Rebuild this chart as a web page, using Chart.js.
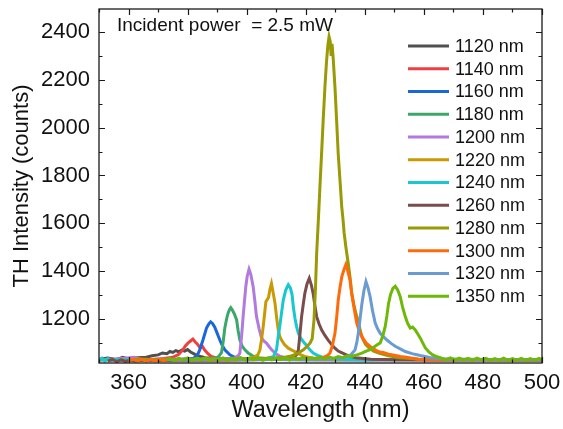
<!DOCTYPE html>
<html>
<head>
<meta charset="utf-8">
<title>TH intensity</title>
<script src="https://cdn.jsdelivr.net/npm/chart.js@4"></script>
<style>
  html, body { margin: 0; padding: 0; background: #fff; }
  #wrap { width: 563px; height: 429px; position: relative; }
</style>
</head>
<body>
<div id="wrap"><canvas id="th-chart"></canvas></div>
<script>
// pump wavelengths (legend) and their colours
const pumpLabels = ['1120 nm', '1140 nm', '1160 nm', '1180 nm', '1200 nm', '1220 nm',
                    '1240 nm', '1260 nm', '1280 nm', '1300 nm', '1320 nm', '1350 nm'];
const pumpColors = ['#505050', '#EE4040', '#1B66DA', '#3CA76A', '#B07ADF', '#C99A05',
                    '#19C8CF', '#7A4C4C', '#999A05', '#FF6A0A', '#6A9BD2', '#6EB80A'];

// axis ranges and tick values
const xMin = 350, xMax = 500;
const yMin = 1016, yMax = 2496;
const xMajorTicks = [360, 380, 400, 420, 440, 460, 480, 500];
const xMinorTicks = [350, 370, 390, 410, 430, 450, 470, 490];
const yMajorTicks = [1200, 1400, 1600, 1800, 2000, 2200, 2400];
const yMinorTicks = [1100, 1300, 1500, 1700, 1900, 2100, 2300];

// spectra: [wavelength (nm), counts]
const s1120 = [[350,1032],[353,1037],[356,1030],[358,1040],[360,1033],[363,1038],[366,1040],[368,1046],[370,1050],[371.5,1058],[373,1055],[374,1064],[375,1060],[376,1068],[377,1063],[378,1070],[379,1066],[380,1072],[381,1062],[382.5,1052],[384,1044],[386,1038],[390,1034],[400,1032],[420,1030],[450,1031],[480,1030],[500,1031]];
const s1140 = [[350,1030],[360,1033],[368,1031],[372,1035],[375,1040],[377,1052],[378.4,1071],[379.3,1088],[380.2,1100],[381,1108],[381.8,1116],[382.6,1104],[383.4,1094],[384.2,1080],[385,1086],[385.8,1070],[386.8,1056],[388,1044],[390,1036],[395,1032],[410,1031],[440,1030],[470,1031],[500,1030]];
const s1160 = [[350,1031],[365,1030],[378,1032],[382,1036],[383.3,1048],[384.1,1071],[385.2,1112],[386.4,1162],[387.2,1180],[387.8,1188],[388.5,1180],[389.2,1166],[389.8,1147],[390.9,1112],[391.8,1088],[392.6,1071],[394.3,1050],[396,1040],[399,1033],[410,1031],[440,1030],[470,1031],[500,1030]];
const s1180 = [[350,1029],[360,1031],[370,1030],[380,1032],[386,1033],[389.5,1037],[390.5,1043],[391.5,1060],[392.1,1110],[392.6,1162],[393.2,1200],[393.7,1224],[394.2,1240],[394.6,1247],[395.1,1238],[395.8,1222],[396.6,1196],[397.1,1152],[397.7,1112],[398.5,1086],[399.4,1071],[400.5,1058],[402,1046],[404,1038],[408,1033],[420,1031],[440,1030],[470,1031],[500,1030]];
const s1200 = [[350,1030],[356,1033],[362,1040],[364,1031],[372,1032],[385,1031],[393,1033],[396,1037],[397.2,1047],[397.7,1058],[398.3,1130],[398.8,1210],[399.3,1280],[399.7,1335],[400.2,1380],[400.8,1408],[401.4,1386],[402.2,1335],[402.8,1272],[403.3,1212],[404.2,1160],[405,1122],[405.8,1108],[406.7,1099],[407.5,1086],[408.4,1072],[410,1053],[411.5,1043],[414,1036],[420,1032],[440,1031],[470,1030],[500,1031]];
const s1220 = [[350,1031],[365,1029],[380,1031],[395,1032],[400,1034],[402.5,1040],[403.8,1050],[404.5,1071],[405.1,1120],[405.6,1168],[406.1,1225],[406.5,1272],[407,1282],[407.4,1290],[407.9,1325],[408.4,1348],[409,1308],[409.6,1265],[410.2,1200],[410.7,1154],[411.2,1128],[411.8,1112],[412.8,1093],[414.1,1078],[415.3,1070],[416.4,1063],[418,1052],[420,1042],[423,1035],[430,1032],[450,1031],[475,1030],[500,1031]];
const s1240 = [[350,1028],[351,1036],[352,1024],[353,1034],[354,1026],[356,1033],[358,1027],[360,1032],[365,1028],[370,1031],[375,1029],[380,1031],[385,1029],[390,1032],[395,1030],[400,1031],[404,1033],[407,1036],[409,1042],[410.1,1071],[410.6,1120],[411.2,1168],[411.8,1225],[412.4,1279],[413.2,1320],[414.1,1343],[414.8,1330],[415.4,1300],[415.8,1250],[416.4,1200],[416.9,1168],[417.5,1140],[418.3,1120],[419.2,1105],[420.2,1090],[421.4,1071],[422.5,1058],[424,1048],[426,1038],[430,1033],[440,1030],[455,1031],[470,1030],[485,1031],[500,1030]];
const s1260 = [[353,1024],[354.5,1031],[356,1022],[357.5,1029],[359,1023],[360.5,1028],[362,1024],[366,1028],[372,1026],[380,1029],[390,1028],[400,1030],[408,1031],[413,1034],[416,1040],[417,1052],[417.5,1071],[418,1130],[418.6,1210],[419.2,1265],[419.7,1307],[420.4,1345],[421.2,1370],[421.9,1342],[422.5,1307],[423.1,1256],[423.7,1210],[424.5,1180],[425.4,1154],[426.5,1131],[427.6,1112],[428.7,1094],[429.9,1078],[431,1066],[432.5,1057],[434.5,1046],[437,1038],[442,1032],[450,1030],[465,1029],[480,1030],[500,1029]];
const s1280 = [[360,1029],[364,1033],[368,1030],[372,1032],[378,1031],[385,1033],[392,1032],[400,1034],[405,1035],[410,1037],[413,1040],[414.6,1044],[416,1050],[417.5,1058],[419.2,1071],[420.5,1086],[421.5,1100],[422.2,1118],[422.8,1196],[423.3,1330],[423.7,1474],[424.3,1620],[424.8,1751],[425.4,1900],[425.9,2029],[426.5,2170],[427,2270],[427.5,2345],[427.9,2380],[428.3,2360],[428.6,2300],[428.9,2350],[429.3,2290],[429.9,2168],[430.5,2020],[431,1890],[431.6,1780],[432.2,1668],[432.6,1620],[433,1560],[433.6,1500],[434.3,1440],[435,1375],[435.6,1305],[436.3,1260],[437,1222],[437.8,1190],[438.5,1150],[439.2,1120],[440.2,1095],[441.5,1078],[443,1066],[445,1056],[448,1046],[452,1038],[458,1033],[466,1031],[475,1032],[488,1030],[500,1031]];
const s1300 = [[360,1026],[361.5,1032],[363,1025],[364.5,1031],[366,1024],[367.5,1031],[369,1025],[370.5,1030],[372,1026],[373.5,1031],[377,1027],[382,1030],[390,1028],[400,1030],[410,1031],[418,1033],[423,1036],[426,1040],[427.3,1047],[428.2,1057],[429,1088],[429.9,1140],[430.5,1210],[431,1279],[431.6,1332],[432.2,1376],[432.9,1405],[433.6,1428],[434.3,1398],[435,1362],[435.5,1312],[436.1,1265],[436.7,1222],[437.3,1182],[438.1,1150],[439,1126],[440.4,1100],[441.8,1085],[443.5,1071],[445,1062],[446.3,1060],[448,1053],[450,1049],[452,1043],[454,1040],[456,1036],[458,1032],[462,1030],[470,1031],[480,1029],[490,1030],[500,1029]];
const s1320 = [[373,1031],[380,1029],[390,1031],[400,1030],[410,1032],[420,1031],[428,1033],[432,1037],[435,1046],[436.7,1071],[437.3,1102],[437.8,1140],[438.4,1200],[439,1262],[439.7,1318],[440.4,1356],[441.1,1330],[441.8,1293],[442.6,1236],[443.5,1184],[444.3,1160],[445.2,1140],[446.3,1126],[447.5,1112],[448.9,1098],[450.3,1086],[452,1075],[453.7,1064],[456,1055],[458.8,1047],[462,1039],[466,1034],[472,1032],[480,1030],[490,1031],[500,1030]];
const s1350 = [[373,1027],[374,1035],[375.5,1026],[377,1036],[378.5,1028],[380,1037],[381.5,1027],[383,1035],[384.5,1029],[386,1038],[387.5,1027],[389,1034],[390.5,1028],[392,1037],[393.5,1027],[395,1035],[396.5,1029],[398,1038],[399.5,1028],[401,1036],[402.5,1030],[404,1037],[405.5,1027],[407,1036],[408.5,1029],[410,1038],[411.5,1030],[413,1037],[414.5,1028],[416,1038],[417.5,1031],[419,1039],[420.5,1030],[422,1038],[423.5,1032],[425,1040],[426.5,1033],[428,1041],[429.5,1035],[431,1043],[432.5,1038],[434,1046],[435.5,1043],[437.3,1050],[439,1057],[440.5,1066],[441.8,1072],[443,1082],[444.2,1092],[445.2,1100],[446.1,1130],[446.9,1168],[447.5,1215],[448,1262],[448.7,1302],[449.5,1328],[450.3,1337],[451.1,1322],[452,1293],[452.8,1250],[453.7,1210],[454.5,1182],[455.4,1162],[456.2,1166],[457.1,1154],[458,1136],[458.8,1120],[459.7,1098],[460.5,1079],[461.7,1062],[463,1050],[464.5,1042],[466,1036],[467.5,1030],[469,1037],[470.5,1028],[472,1036],[473.5,1028],[475,1035],[476.5,1027],[478,1036],[479.5,1029],[481,1035],[482.5,1027],[484,1034],[485.5,1028],[487,1036],[488.5,1027],[490,1034],[491.5,1028],[493,1035],[494.5,1027],[496,1034],[497.5,1028],[499,1035],[500,1029]];

const spectra = [s1120, s1140, s1160, s1180, s1200, s1220, s1240, s1260, s1280, s1300, s1320, s1350];
const powerNote = 'Incident power  = 2.5 mW';

const FONT = '"Liberation Sans", Arial, sans-serif';
Chart.defaults.font.family = FONT;
Chart.defaults.color = '#111';

// Origin-style frame with inward ticks on all four sides
const frameTicks = {
    id: 'frameTicks',
    afterDatasetsDraw(chart) {
        const {ctx, chartArea: a, scales} = chart;
        ctx.save();
        ctx.strokeStyle = '#1a1a1a';
        ctx.lineWidth = 1.3;
        ctx.strokeRect(a.left, a.top, a.right - a.left, a.bottom - a.top);
        ctx.lineWidth = 1.2;
        ctx.beginPath();
        const xMarks = (vals, len) => vals.forEach(v => {
            const px = Math.round(scales.x.getPixelForValue(v)) + 0.5;
            ctx.moveTo(px, a.bottom); ctx.lineTo(px, a.bottom - len);
            ctx.moveTo(px, a.top); ctx.lineTo(px, a.top + len);
        });
        const yMarks = (vals, len) => vals.forEach(v => {
            const py = Math.round(scales.y.getPixelForValue(v)) + 0.5;
            ctx.moveTo(a.left, py); ctx.lineTo(a.left + len, py);
            ctx.moveTo(a.right, py); ctx.lineTo(a.right - len, py);
        });
        xMarks(xMajorTicks, 6); xMarks(xMinorTicks, 3.5);
        yMarks(yMajorTicks, 6); yMarks(yMinorTicks, 3.5);
        ctx.stroke();
        ctx.restore();
    }
};

// legend inside the plot + power note
const insideLegend = {
    id: 'insideLegend',
    afterDraw(chart) {
        const {ctx, chartArea: a} = chart;
        ctx.save();
        ctx.fillStyle = '#111';
        ctx.font = '19px ' + FONT;
        ctx.textBaseline = 'alphabetic';
        ctx.fillText(powerNote, a.left + 18, a.top + 22);

        ctx.font = '18px ' + FONT;
        ctx.textBaseline = 'middle';
        pumpLabels.forEach((lab, i) => {
            const yy = a.top + 37 + i * 22.75;
            ctx.strokeStyle = pumpColors[i];
            ctx.lineWidth = 3;
            ctx.beginPath();
            ctx.moveTo(a.right - 134, yy);
            ctx.lineTo(a.right - 93, yy);
            ctx.stroke();
            ctx.fillText(lab, a.right - 87, yy + 1);
        });
        ctx.restore();
    }
};

function createChart() {
    const ctx = document.getElementById('th-chart').getContext('2d');
    const n = spectra.length;

    new Chart(ctx, {
        type: 'line',
        data: {
            datasets: spectra.map((pts, i) => ({
                label: pumpLabels[i],
                data: pts.map(([x, y]) => ({x, y})),
                borderColor: pumpColors[i],
                backgroundColor: pumpColors[i],
                borderWidth: 3,
                order: n - 1 - i
            }))
        },
        options: {
            responsive: true,
            maintainAspectRatio: false,
            animation: false,
            layout: { autoPadding: false, padding: { top: 9, right: 21, left: 0, bottom: 0 } },
            elements: { point: { radius: 0 }, line: { tension: 0 } },
            plugins: { legend: { display: false }, tooltip: { enabled: false } },
            scales: {
                x: {
                    type: 'linear',
                    min: xMin, max: xMax,
                    grid: { display: false, drawTicks: false },
                    border: { display: false },
                    afterBuildTicks: s => { s.ticks = xMajorTicks.map(v => ({value: v})); },
                    afterFit: s => { s.height = 66; s.paddingLeft = 0; s.paddingRight = 0; },
                    ticks: { font: { size: 22 }, color: '#111', padding: 7, maxRotation: 0,
                             callback: v => String(v) },
                    title: { display: true, text: 'Wavelength (nm)', font: { size: 23.5 }, color: '#111',
                             padding: { top: 0, bottom: 4 } }
                },
                y: {
                    type: 'linear',
                    min: yMin, max: yMax,
                    grid: { display: false, drawTicks: false },
                    border: { display: false },
                    afterBuildTicks: s => { s.ticks = yMajorTicks.map(v => ({value: v})); },
                    afterFit: s => { s.width = 99; s.paddingTop = 0; s.paddingBottom = 0; },
                    ticks: { font: { size: 22 }, color: '#111', padding: 9,
                             callback: v => String(v) },
                    title: { display: true, text: 'TH Intensity (counts)', font: { size: 22 }, color: '#111',
                             padding: { top: 9, bottom: 0 } }
                }
            }
        },
        plugins: [frameTicks, insideLegend]
    });
}

document.addEventListener('DOMContentLoaded', createChart);
</script>
</body>
</html>
